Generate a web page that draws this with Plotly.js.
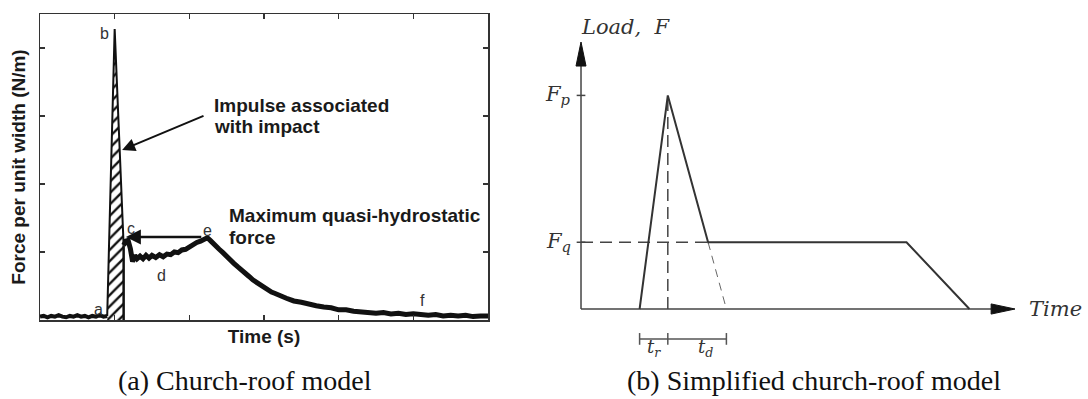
<!DOCTYPE html>
<html>
<head>
<meta charset="utf-8">
<script src="https://cdn.plot.ly/plotly-3.0.1.min.js"></script>
<style>html,body{margin:0;padding:0;background:#fff;}#chart{width:1088px;height:399px;}</style>
</head>
<body>
<div id="chart"></div>
<script>
// ---------- (a) Church-roof model : measured force trace ----------
const baseTime = [0, 0.05, 0.1, 0.15, 0.2, 0.25, 0.3, 0.35, 0.4, 0.45, 0.5, 0.55, 0.6, 0.65, 0.7, 0.75, 0.8, 0.85, 0.9];
const baseForce = [0.05, 0.06, 0.04, 0.06, 0.05, 0.07, 0.05, 0.04, 0.06, 0.05, 0.07, 0.05, 0.06, 0.04, 0.06, 0.05, 0.07, 0.05, 0.06];

const impactTime = [0.9, 0.95, 1.0, 1.06, 1.12];
const impactForce = [0.06, 2.17, 4.28, 2.69, 1.10];

const quasiTime = [1.12,1.15,1.18,1.21,1.24,1.27,1.30,1.34,1.38,1.42,1.46,1.50,1.55,1.60,1.65,1.70,1.75,1.80,1.85,1.90,1.95,2.00,2.05,2.10,2.15,2.20,2.24,2.28,2.32,2.36,2.40,2.45,2.50,2.55,2.60,2.65,2.70,2.75,2.80,2.85,2.90,2.95,3.00,3.05,3.10,3.15,3.20,3.25,3.30,3.35,3.40,3.50,3.60,3.70,3.80,3.90,4.00,4.10,4.20,4.30,4.40,4.50,4.60,4.70,4.80,4.90,5.00,5.10,5.20,5.30,5.40,5.50,5.60,5.70,5.80,5.90,6.00];
const quasiForce = [1.10,1.16,1.17,1.05,0.86,0.95,0.90,0.94,0.90,0.95,0.91,0.95,0.92,0.96,0.93,0.97,0.96,1.00,0.99,1.03,1.04,1.08,1.10,1.14,1.16,1.20,1.21,1.17,1.12,1.08,1.04,0.99,0.93,0.89,0.83,0.78,0.74,0.68,0.64,0.59,0.55,0.51,0.48,0.45,0.41,0.39,0.36,0.34,0.32,0.30,0.28,0.26,0.23,0.21,0.19,0.18,0.15,0.15,0.13,0.12,0.12,0.10,0.11,0.09,0.10,0.08,0.09,0.08,0.07,0.08,0.06,0.07,0.06,0.07,0.05,0.06,0.06];

const pointLabels = ['a', 'b', 'c', 'd', 'e', 'f'];
const pointLabelT = [0.78, 0.87, 1.22, 1.63, 2.24, 5.12];
const pointLabelF = [0.16, 4.22, 1.34, 0.66, 1.32, 0.29];

// ---------- (b) Simplified church-roof model ----------
const riseStart = 1.35;   // start of rise
const peakTime = 2.0;     // time of peak Fp
const decayEnd = 3.35;    // end of triangular decay (t_r + t_d)
const plateauEnd = 7.5;   // end of quasi-static plateau
const loadEnd = 8.95;     // load back to zero
const Fp = 8.0;
const Fq = 2.5;
const axisEnd = 10.0;

const tq = peakTime + (decayEnd - peakTime) * (1 - Fq / Fp);

const SANS = 'Liberation Sans, Arial, Helvetica, sans-serif';
const SERIF_IT = 'DejaVu Serif, serif';
const CAPTION = 'Liberation Serif, Times New Roman, serif';
const LINE = '#333';

const traces = [
  // hatched impulse region
  {x: [impactTime[0], impactTime[0], impactTime[2], impactTime[4], impactTime[4]],
   y: [0, impactForce[0], impactForce[2], impactForce[4], 0],
   xaxis: 'x', yaxis: 'y', mode: 'lines', fill: 'toself', fillcolor: 'white',
   fillpattern: {shape: '/', size: 8, solidity: 0.3, fgcolor: '#111', bgcolor: 'white'},
   line: {width: 0, color: 'rgba(0,0,0,0)'}, hoverinfo: 'skip'},
  {x: [impactTime[4], impactTime[4]], y: [0, impactForce[4]], xaxis: 'x', yaxis: 'y',
   mode: 'lines', line: {color: '#111', width: 2.5}},
  {x: baseTime, y: baseForce, xaxis: 'x', yaxis: 'y', mode: 'lines', line: {color: '#111', width: 4}},
  {x: impactTime, y: impactForce, xaxis: 'x', yaxis: 'y', mode: 'lines', line: {color: '#111', width: 2}},
  {x: quasiTime, y: quasiForce, xaxis: 'x', yaxis: 'y', mode: 'lines', line: {color: '#111', width: 5}},

  // ---- right chart ----
  // axes
  {x: [0, 0], y: [0, axisEnd - 0.9], xaxis: 'x2', yaxis: 'y2', mode: 'lines', line: {color: '#444', width: 1.5}},
  {x: [0, axisEnd - 0.55], y: [0, 0], xaxis: 'x2', yaxis: 'y2', mode: 'lines', line: {color: '#444', width: 1.5}},
  {x: [-0.115, 0, 0.115, -0.115], y: [axisEnd - 0.9, axisEnd, axisEnd - 0.9, axisEnd - 0.9], xaxis: 'x2', yaxis: 'y2',
   mode: 'lines', fill: 'toself', fillcolor: '#111', line: {color: '#111', width: 1}},
  {x: [axisEnd - 0.55, axisEnd, axisEnd - 0.55, axisEnd - 0.55], y: [0.19, 0, -0.19, 0.19], xaxis: 'x2', yaxis: 'y2',
   mode: 'lines', fill: 'toself', fillcolor: '#111', line: {color: '#111', width: 1}},
  // y ticks
  {x: [-0.1, 0.1], y: [Fp, Fp], xaxis: 'x2', yaxis: 'y2', mode: 'lines', line: {color: '#444', width: 1.5}},
  {x: [-0.1, 0.1], y: [Fq, Fq], xaxis: 'x2', yaxis: 'y2', mode: 'lines', line: {color: '#444', width: 1.5}},
  // dashed guides
  {x: [0, tq], y: [Fq, Fq], xaxis: 'x2', yaxis: 'y2', mode: 'lines', line: {color: '#444', width: 1.5, dash: '12px,7px'}},
  {x: [peakTime, peakTime], y: [0, Fp], xaxis: 'x2', yaxis: 'y2', mode: 'lines', line: {color: '#444', width: 1.5, dash: '12px,6px'}},
  {x: [tq, decayEnd], y: [Fq, 0], xaxis: 'x2', yaxis: 'y2', mode: 'lines', line: {color: '#666', width: 1, dash: '8px,6px'}},
  // load path
  {x: [riseStart, peakTime, tq, plateauEnd, loadEnd], y: [0, Fp, Fq, Fq, 0], xaxis: 'x2', yaxis: 'y2',
   mode: 'lines', line: {color: LINE, width: 2}},
  // dimension line t_r / t_d
  {x: [riseStart, decayEnd], y: [-1.12, -1.12], xaxis: 'x2', yaxis: 'y2', mode: 'lines', line: {color: '#555', width: 1.5}},
  {x: [riseStart, riseStart, null, peakTime, peakTime, null, decayEnd, decayEnd],
   y: [-0.9, -1.34, null, -0.9, -1.34, null, -0.9, -1.34], xaxis: 'x2', yaxis: 'y2', mode: 'lines',
   line: {color: '#555', width: 1.5}}
];

const annotations = [];
pointLabels.forEach((t, i) => annotations.push({
  x: pointLabelT[i], y: pointLabelF[i], xref: 'x', yref: 'y', text: t, showarrow: false,
  font: {family: SANS, size: 16, color: '#333'}
}));
const boldFont = {family: SANS, size: 19, color: '#1a1a1a'};
const itFont = {family: SERIF_IT, size: 21, color: '#333'};
const tFont = {family: SERIF_IT, size: 18, color: '#333'};
annotations.push(
  {x: 2.30, y: 3.16, xref: 'x', yref: 'y', text: '<b>Impulse associated</b>', showarrow: false, xanchor: 'left', font: boldFont},
  {x: 2.30, y: 2.84, xref: 'x', yref: 'y', text: '<b>with impact</b>', showarrow: false, xanchor: 'left', font: boldFont},
  {x: 2.50, y: 1.54, xref: 'x', yref: 'y', text: '<b>Maximum quasi-hydrostatic</b>', showarrow: false, xanchor: 'left', font: boldFont},
  {x: 2.50, y: 1.22, xref: 'x', yref: 'y', text: '<b>force</b>', showarrow: false, xanchor: 'left', font: boldFont},
  // arrows
  {x: 1.10, y: 2.5, xref: 'x', yref: 'y', ax: 2.21, ay: 3.01, axref: 'x', ayref: 'y', text: '', showarrow: true,
   arrowhead: 2, arrowsize: 1.3, arrowwidth: 2, arrowcolor: '#111', standoff: 0},
  {x: 1.15, y: 1.22, xref: 'x', yref: 'y', ax: 2.18, ay: 1.22, axref: 'x', ayref: 'y', text: '', showarrow: true,
   arrowhead: 2, arrowsize: 1.2, arrowwidth: 2.5, arrowcolor: '#111', standoff: 0},
  // right chart labels
  {x: 579 / 1088, y: (399 - 27) / 399, xref: 'paper', yref: 'paper', text: '<i>Load,&nbsp;&nbsp;F</i>', showarrow: false,
   xanchor: 'left', yanchor: 'middle', font: itFont},
  {x: axisEnd, y: 0, xref: 'x2', yref: 'y2', text: '<i>Time</i>', showarrow: false, xanchor: 'left', xshift: 12, font: itFont},
  {x: 0, y: Fp, xref: 'x2', yref: 'y2', text: '<i>F<sub>p</sub></i>', showarrow: false, xanchor: 'right', xshift: -8, font: itFont},
  {x: 0, y: Fq, xref: 'x2', yref: 'y2', text: '<i>F<sub>q</sub></i>', showarrow: false, xanchor: 'right', xshift: -8, font: itFont},
  {x: (riseStart + peakTime) / 2, y: -1.46, xref: 'x2', yref: 'y2', text: '<i>t<sub>r</sub></i>', showarrow: false,
   yanchor: 'middle', font: tFont},
  {x: (peakTime + decayEnd) / 2, y: -1.46, xref: 'x2', yref: 'y2', text: '<i>t<sub>d</sub></i>', showarrow: false, xshift: 8,
   yanchor: 'middle', font: tFont},
  // captions
  {x: 245 / 1088, y: (399 - 380) / 399, xref: 'paper', yref: 'paper', text: '(a) Church-roof model', showarrow: false,
   xanchor: 'center', yanchor: 'middle', font: {family: CAPTION, size: 28, color: '#111'}},
  {x: 814 / 1088, y: (399 - 380) / 399, xref: 'paper', yref: 'paper', text: '(b) Simplified church-roof model', showarrow: false,
   xanchor: 'center', yanchor: 'middle', font: {family: CAPTION, size: 28, color: '#111'}}
);

const frameAxis = {
  showline: true, mirror: 'ticks', linecolor: '#333', linewidth: 1.5,
  ticks: 'inside', ticklen: 5, tickwidth: 1.2, tickcolor: '#333',
  showticklabels: false, showgrid: false, zeroline: false, dtick: 1, tick0: 0, fixedrange: true
};

const layout = {
  width: 1088, height: 399,
  margin: {l: 0, r: 0, t: 0, b: 0},
  paper_bgcolor: 'white', plot_bgcolor: 'white',
  showlegend: false,
  xaxis: Object.assign({}, frameAxis, {
    domain: [40 / 1088, 488 / 1088], range: [0, 6], anchor: 'y',
    title: {text: '<b>Time (s)</b>', font: {family: SANS, size: 19, color: '#1a1a1a'}, standoff: 9}
  }),
  yaxis: Object.assign({}, frameAxis, {
    domain: [(399 - 320) / 399, (399 - 14) / 399], range: [0, 4.5], anchor: 'x',
    title: {text: '<b>Force per unit width (N/m)</b>', font: {family: SANS, size: 19, color: '#1a1a1a'}, standoff: 8}
  }),
  xaxis2: {domain: [560 / 1088, 1020 / 1088], range: [-0.484, 10.115], visible: false, anchor: 'y2', fixedrange: true},
  yaxis2: {domain: [(399 - 360) / 399, (399 - 30) / 399], range: [-1.91, 10.45], visible: false, anchor: 'x2', fixedrange: true},
  annotations: annotations
};

Plotly.newPlot('chart', traces, layout, {staticPlot: true, displayModeBar: false});
</script>
</body>
</html>
